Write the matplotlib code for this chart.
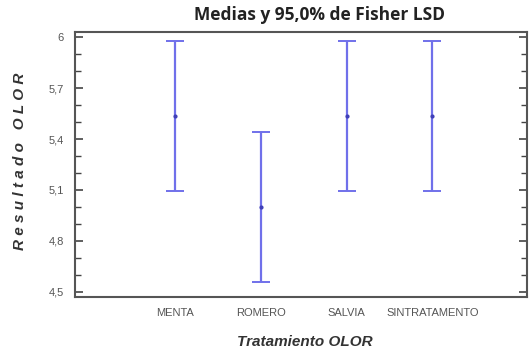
import matplotlib.pyplot as plt
from matplotlib.ticker import MultipleLocator, FuncFormatter

# Data
tratamientos = ['MENTA', 'ROMERO', 'SALVIA', 'SINTRATAMENTO']
medias = [5.535, 5.0, 5.535, 5.535]
lsd_mitad = [0.443, 0.443, 0.443, 0.443]
y_ticks = [4.5, 4.8, 5.1, 5.4, 5.7, 6.0]

narrow = ['Liberation Sans Narrow', 'Liberation Sans', 'DejaVu Sans']

fig = plt.figure(figsize=(5.31, 3.53), dpi=100)
ax = fig.add_axes([75 / 531, 1 - 297 / 353, 452 / 531, 265 / 353])

pos = list(range(1, len(tratamientos) + 1))
ax.errorbar(pos, medias, yerr=lsd_mitad, fmt='o', color='#7070ea', ecolor='#7070ea',
            elinewidth=1.6, capsize=6.5, capthick=1.4, markersize=2,
            markerfacecolor='#4040b8', markeredgecolor='#4040b8')

ax.set_xlim(-0.16, 5.1)
ax.set_ylim(4.47, 6.03)
ax.set_xticks(pos)
ax.set_xticklabels(tratamientos, family=narrow, fontsize=8, color='#555555')
ax.set_yticks(y_ticks)
ax.yaxis.set_minor_locator(MultipleLocator(0.1))
ax.yaxis.set_major_formatter(FuncFormatter(lambda v, p: ('%g' % round(v, 1)).replace('.', ',')))
for lab in ax.get_yticklabels():
    lab.set_family(narrow)
    lab.set_fontsize(8)
    lab.set_color('#555555')

ax.tick_params(axis='x', length=0, pad=8)
ax.tick_params(axis='y', which='major', direction='in', length=6, width=1.2,
               right=True, color='#444444', pad=8)
ax.tick_params(axis='y', which='minor', direction='in', length=4, width=1.0,
               right=True, color='#444444')

for s in ax.spines.values():
    s.set_color('#555555')
    s.set_linewidth(1.5)

fig.text(319 / 531, 1 - 15 / 353, 'Medias y 95,0% de Fisher LSD', ha='center', va='center',
         fontsize=12.5, fontweight='bold', family=['Open Sans', 'DejaVu Sans'], color='#222222')
fig.text(20 / 531, 1 - 161 / 353, 'R e s u l t a d o   O L O R', rotation=90, ha='center',
         va='center', fontsize=11, fontweight='bold', fontstyle='italic',
         family=['Liberation Sans', 'DejaVu Sans'], color='#333333')
fig.text(305 / 531, 1 - 342 / 353, 'Tratamiento OLOR', ha='center', va='center',
         fontsize=11, fontweight='bold', fontstyle='italic', family=narrow, color='#333333')

fig.savefig('out.png', dpi=100)
